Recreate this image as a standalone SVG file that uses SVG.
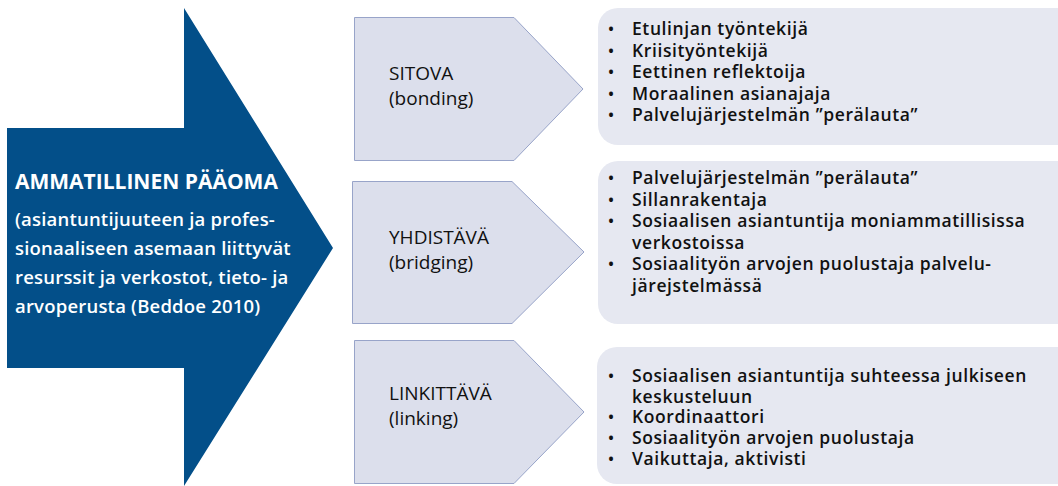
<svg xmlns="http://www.w3.org/2000/svg" width="1058" height="486" viewBox="0 0 1058 486">
<style>
.main{fill:#034f89}
.chev{fill:#dcdfec;stroke:#98a4c9;stroke-width:1}
.box{fill:#e6e8f1}
.t{font-family:"Open Sans","Liberation Sans",sans-serif}
.title{fill:#ffffff;font-size:21px;font-weight:700}
.sub{fill:#ffffff;font-size:18.5px;font-weight:600;letter-spacing:0.2px}
.lab{fill:#111111;font-size:19px;font-weight:400}
.it{fill:#111111;font-size:17.5px;font-weight:600;letter-spacing:0.6px}
.bu{fill:#111111;font-size:16px;font-weight:600}
</style>
<rect width="1058" height="486" fill="#ffffff"/>
<g id="main-arrow">
<polygon class="main" points="7,128 184,128 184,8 333,248 184,486 184,368 7,368"/>
<text class="t title" x="15" y="189">AMMATILLINEN PÄÄOMA</text>
<text class="t sub" x="15" y="226">(asiantuntijuuteen ja profes-</text>
<text class="t sub" x="15" y="255">sionaaliseen asemaan liittyvät</text>
<text class="t sub" x="15" y="284">resurssit ja verkostot, tieto- ja</text>
<text class="t sub" x="15" y="313">arvoperusta (Beddoe 2010)</text>
</g>
<g id="sitova">
<polygon class="chev" points="354.5,17.5 514,17.5 583,89 514,160.5 354.5,160.5"/>
<text class="t lab" x="389" y="80">SITOVA</text>
<text class="t lab" x="389" y="105">(bonding)</text>
</g>
<g id="yhdistava">
<polygon class="chev" points="352.5,181.5 512,181.5 584,252 512,323.5 352.5,323.5"/>
<text class="t lab" x="389" y="244">YHDISTÄVÄ</text>
<text class="t lab" x="389" y="269">(bridging)</text>
</g>
<g id="linkittava">
<polygon class="chev" points="354.5,340.5 514,340.5 584,412 514,483.5 354.5,483.5"/>
<text class="t lab" x="389" y="400">LINKITTÄVÄ</text>
<text class="t lab" x="389" y="425">(linking)</text>
</g>
<g id="box-sitova">
<rect class="box" x="598" y="8" width="480" height="137" rx="20"/>
<text class="t bu" x="608" y="35">•</text><text class="t it" x="632" y="35">Etulinjan työntekijä</text>
<text class="t bu" x="608" y="56.5">•</text><text class="t it" x="632" y="56.5">Kriisityöntekijä</text>
<text class="t bu" x="608" y="78">•</text><text class="t it" x="632" y="78">Eettinen reflektoija</text>
<text class="t bu" x="608" y="99.5">•</text><text class="t it" x="632" y="99.5">Moraalinen asianajaja</text>
<text class="t bu" x="608" y="121">•</text><text class="t it" x="632" y="121">Palvelujärjestelmän ”perälauta”</text>
</g>
<g id="box-yhdistava">
<rect class="box" x="598" y="161" width="480" height="163" rx="20"/>
<text class="t bu" x="608" y="184">•</text><text class="t it" x="632" y="184">Palvelujärjestelmän ”perälauta”</text>
<text class="t bu" x="608" y="205.5">•</text><text class="t it" x="632" y="205.5">Sillanrakentaja</text>
<text class="t bu" x="608" y="227">•</text><text class="t it" x="632" y="227">Sosiaalisen asiantuntija moniammatillisissa</text>
<text class="t it" x="632" y="248.5">verkostoissa</text>
<text class="t bu" x="608" y="270">•</text><text class="t it" x="632" y="270">Sosiaalityön arvojen puolustaja palvelu-</text>
<text class="t it" x="632" y="291.5">järejstelmässä</text>
</g>
<g id="box-linkittava">
<rect class="box" x="597" y="347" width="480" height="137" rx="20"/>
<text class="t bu" x="608" y="382">•</text><text class="t it" x="632" y="382">Sosiaalisen asiantuntija suhteessa julkiseen</text>
<text class="t it" x="632" y="402.5">keskusteluun</text>
<text class="t bu" x="608" y="423">•</text><text class="t it" x="632" y="423">Koordinaattori</text>
<text class="t bu" x="608" y="444">•</text><text class="t it" x="632" y="444">Sosiaalityön arvojen puolustaja</text>
<text class="t bu" x="608" y="465">•</text><text class="t it" x="632" y="465">Vaikuttaja, aktivisti</text>
</g>
<g id="connectors"></g>
</svg>
